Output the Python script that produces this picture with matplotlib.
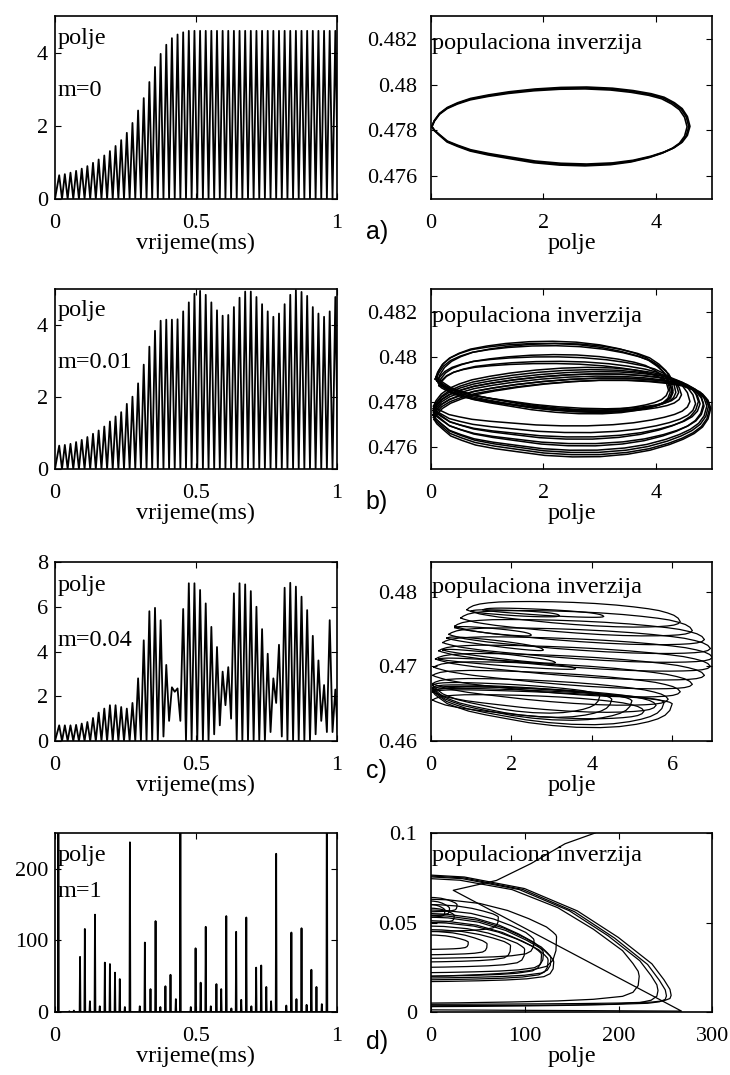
import numpy as np
import matplotlib
matplotlib.use('Agg')
import matplotlib.pyplot as plt

plt.rcParams['font.family'] = ['Liberation Serif', 'DejaVu Serif']
plt.rcParams['font.size'] = 17.5

# field pulses: one peak per period, trough in between
T0 = 0.015
PERIOD = 0.02

peaks_a = [0.65, 0.68, 0.72, 0.77, 0.83, 0.9, 0.99, 1.08, 1.19, 1.31,
           1.45, 1.61, 1.81, 2.08, 2.42, 2.76, 3.2, 3.61, 3.97, 4.22,
           4.4, 4.5, 4.56] + [4.6] * 27

peaks_b = [0.65, 0.67, 0.70, 0.75, 0.81, 0.89, 0.98, 1.07, 1.18, 1.32,
           1.46, 1.58, 1.81, 2.01, 2.38, 2.9, 3.4, 3.84, 4.12, 4.15,
           4.15, 4.16, 4.38, 4.63, 4.87, 4.95, 4.84, 4.63, 4.41, 4.26,
           4.28, 4.5, 4.76, 4.93, 4.93, 4.78, 4.58, 4.38, 4.23, 4.32,
           4.58, 4.84, 4.97, 4.92, 4.81, 4.5, 4.32, 4.23, 4.38, 4.78]

peaks_c = [0.7, 0.7, 0.7, 0.72, 0.78, 0.85, 1.03, 1.27, 1.45, 1.6,
           1.6, 1.52, 1.45, 1.7, 2.8, 4.5, 5.8, 5.95, 5.4, 3.4,
           2.4, 2.35, 5.9, 7.05, 7.05, 6.75, 6.15, 5.1, 4.2, 3.1,
           3.3, 6.6, 7.05, 7.0, 6.7, 6.0, 5.0, 3.9, 2.8, 4.3,
           6.85, 7.07, 6.9, 6.45, 5.85, 4.7, 3.6, 2.5, 5.4, 2.3]
troughs_c = [0] * 18 + [0.2, 0.9, 2.2, 0.9, 0, 0, 0, 0, 0, 0.3,
                        0.7, 1.6, 1.0, 0, 0, 0, 0, 0, 0, 0.4,
                        1.7, 0.2, 0, 0, 0, 0, 0, 0.3, 0.9, 0.4, 0.4]

# m=1: isolated spikes (time in ms, height)
spike_t = [0.012, 0.051, 0.067, 0.089, 0.106, 0.124, 0.142, 0.159, 0.177, 0.195,
           0.213, 0.230, 0.248, 0.266, 0.301, 0.319, 0.339, 0.357, 0.374, 0.392,
           0.410, 0.429, 0.445, 0.482, 0.499, 0.517, 0.535, 0.553, 0.573, 0.590,
           0.608, 0.626, 0.643, 0.661, 0.679, 0.697, 0.714, 0.732, 0.750, 0.767,
           0.785, 0.821, 0.839, 0.857, 0.875, 0.893, 0.910, 0.928, 0.947, 0.965]
spike_h = [600, 1, 2, 77, 116, 15, 136, 8, 69, 67,
           55, 46, 7, 237, 8, 97, 32, 127, 7, 36,
           52, 18, 400, 7, 89, 41, 119, 8, 39, 32,
           134, 5, 112, 17, 132, 8, 62, 65, 35, 15,
           221, 9, 111, 18, 117, 10, 59, 35, 11, 400]

# closed orbit shape in the (field, inversion) plane for m=0
LOOP_S = np.array([0, .01, .03, .06, .10, .15, .22, .30, .40, .50,
                   .60, .70, .78, .85, .90, .94, .97, .99, 1.0])
LOOP_UP = np.array([0, .15, .33, .48, .60, .71, .80, .88, .95, .99,
                    1.0, .97, .91, .83, .74, .60, .45, .25, 0])
LOOP_LOW = np.array([0, .10, .22, .39, .50, .62, .72, .81, .92, .98,
                     1.0, .97, .90, .79, .68, .56, .42, .24, 0])

# orbits: left x, right x, left y, right y, upper bulge, lower bulge
a_x0 = [0.02, 0.02, 0.02]
a_x1 = [4.58, 4.60, 4.55]
a_yl = [0.47817, 0.47818, 0.47816]
a_yr = [0.47817, 0.47818, 0.47816]
a_up = [0.00169, 0.00172, 0.00166]
a_dn = [0.00168, 0.00165, 0.00171]

b_x0 = [0.08, 0.10, 0.12, 0.10, 0.14, 0.12, 0.15, 0.16,
        0.05, 0.05, 0.06, 0.05, 0.04, 0.05, 0.06, 0.05, 0.04, 0.05]
b_x1 = [4.25, 4.28, 4.30, 4.35, 4.22, 4.40, 4.45, 4.30,
        4.60, 4.70, 4.78, 4.85, 4.90, 4.95, 4.97, 4.93, 4.84, 4.75]
b_yl = [0.4790, 0.4791, 0.4789, 0.4790, 0.4788, 0.4789, 0.4787, 0.4788,
        0.4778, 0.4777, 0.4776, 0.4775, 0.4774, 0.4773, 0.4772, 0.4774, 0.4776, 0.4777]
b_yr = [0.4784, 0.4784, 0.4785, 0.4784, 0.4785, 0.4784, 0.4783, 0.4784,
        0.4780, 0.4779, 0.4779, 0.4778, 0.4778, 0.4777, 0.4777, 0.4778, 0.4779, 0.4780]
b_up = [.0020, .00185, .0019, .0018, .00145, .00135, .0013, .0011,
        .0016, .0016, .00145, .00145, .0014, .0014, .00145, .0014, .00145, .00145]
b_dn = [.0011, .0011, .0012, .0010, .0010, .0009, .0009, .0010,
        .0010, .0012, .00135, .00155, .0018, .0019, .00195, .0019, .00175, .00155]

c_x0 = [0.9, 0.75, 0.6, 0.45, 0.3, 0.2, 0.12, 0.08, 0.05, 0.05, 0.05, 0.05,
        1.0, 1.3, 0.6, 0.4, 0.3, 0.2,
        0.05, 0.05, 0.05, 0.05, 0.05]
c_x1 = [6.2, 6.5, 6.8, 6.95, 7.0, 6.95, 6.8, 6.5, 6.2, 5.9, 5.6, 5.3,
        3.2, 4.3, 2.5, 2.8, 3.1, 3.6,
        4.5, 5.0, 5.8, 6.0, 4.2]
c_yl = [0.4776, 0.4765, 0.4754, 0.4743, 0.4732, 0.4721, 0.4710, 0.4699,
        0.4688, 0.4677, 0.4666, 0.4655,
        0.4774, 0.4776, 0.4752, 0.4738, 0.4722, 0.4710,
        0.4672, 0.4670, 0.4668, 0.4666, 0.4675]
c_yr = [0.4760, 0.4748, 0.4736, 0.4724, 0.4712, 0.4700, 0.4688, 0.4676,
        0.4666, 0.4656, 0.4648, 0.4640,
        0.4768, 0.4767, 0.4742, 0.4722, 0.4705, 0.4697,
        0.4656, 0.4654, 0.4652, 0.4650, 0.4660]
c_up = [0.0018, 0.0017, 0.0016, 0.0016, 0.0015, 0.0015, 0.0015, 0.0015,
        0.0014, 0.0014, 0.0013, 0.0013,
        0.0004, 0.0005, 0.0004, 0.0005, 0.0004, 0.0004,
        0.0008, 0.0008, 0.0007, 0.0007, 0.0008]
c_dn = [0.0012, 0.0012, 0.0012, 0.0012, 0.0012, 0.0012, 0.0012, 0.0012,
        0.0013, 0.0014, 0.0015, 0.0015,
        0.0003, 0.0003, 0.0003, 0.0003, 0.0003, 0.0003,
        0.0030, 0.0032, 0.0036, 0.0038, 0.0028]

# m=1 orbits start at field 0 and return to it
DLOOP_S = np.array([0, .14, .39, .61, .78, .92, .97, .995, 1.0])
DLOOP_UP = np.array([1, .984, .888, .702, .482, .262, .13, .05, 0])
DLOOP_LOW = np.array([1, .99, .96, .92, .86, .75, .6, .35, 0])

d_x1 = [256, 251, 242, 222,
        72, 110, 120, 128, 131, 134, 118, 125, 100, 85, 60, 40, 28, 20, 15, 25]
d_top = [0.0765, 0.0760, 0.0755, 0.0745,
         0.060, 0.057, 0.055, 0.054, 0.053, 0.063, 0.050, 0.051, 0.048, 0.046,
         0.045, 0.043, 0.064, 0.062, 0.060, 0.058]
d_end = [0.0093, 0.0090, 0.0120, 0.0200,
         0.053, 0.040, 0.033, 0.030, 0.028, 0.042, 0.032, 0.029, 0.035, 0.037,
         0.038, 0.039, 0.060, 0.058, 0.057, 0.054]
d_bot = [0.0043, 0.0035, 0.0030, 0.0050,
         0.045, 0.030, 0.022, 0.019, 0.017, 0.020, 0.020, 0.018, 0.025, 0.028,
         0.032, 0.035, 0.056, 0.054, 0.053, 0.050]
# transient: along the bottom, back up the diagonal and out of the frame
d_tail_x = [0, 267, 24, 70, 107, 143, 175]
d_tail_y = [0.0012, 0.0005, 0.068, 0.0735, 0.083, 0.094, 0.1]


def pulse_train(peaks, troughs=None):
    t = [0.0]
    y = [0.0]
    for k, p in enumerate(peaks):
        tk = T0 + PERIOD * k
        t.append(tk)
        y.append(p)
        low = troughs[k] if troughs is not None and k < len(troughs) else 0.0
        t.append(tk + PERIOD / 2)
        y.append(low)
    return np.array(t), np.array(y)


def spikes(times, heights, half=0.0015):
    t = [0.0]
    y = [0.0]
    for tk, h in zip(times, heights):
        t += [tk - half, tk, tk + half]
        y += [0.0, h, 0.0]
    t.append(1.0)
    y.append(0.0)
    return np.array(t), np.array(y)


def orbit(ax, x0, x1, yl, yr, up, dn, lw=0.9):
    for i in range(len(x0)):
        xs = x0[i] + (x1[i] - x0[i]) * LOOP_S
        base = yl[i] + (yr[i] - yl[i]) * LOOP_S
        xx = np.concatenate([xs, xs[::-1]])
        yy = np.concatenate([base + up[i] * LOOP_UP, (base - dn[i] * LOOP_LOW)[::-1]])
        ax.plot(xx, yy, color='k', lw=lw)


def orbit_d(ax):
    for i in range(len(d_x1)):
        xs = d_x1[i] * DLOOP_S
        upper = d_end[i] + (d_top[i] - d_end[i]) * DLOOP_UP
        lower = d_end[i] - (d_end[i] - d_bot[i]) * DLOOP_LOW
        ax.plot(np.concatenate([xs, xs[::-1]]),
                np.concatenate([upper, lower[::-1]]), color='k', lw=0.9)
    ax.plot(d_tail_x, d_tail_y, color='k', lw=0.9)


def style(ax, ypad):
    ax.tick_params(direction='in', top=True, right=True, length=4, width=0.8,
                   labelsize=16)
    ax.tick_params(axis='x', pad=11)
    ax.tick_params(axis='y', pad=ypad)
    for sp in ax.spines.values():
        sp.set_linewidth(1.2)


fig = plt.figure(figsize=(7.3, 10.75), dpi=100)
lx, rx, w = 0.0753, 0.590, 0.386
rows = [(0.8149, 0.170), (0.5637, 0.1674), (0.3107, 0.1665), (0.0586, 0.1665)]
axL = [fig.add_axes([lx, y0, w, h]) for y0, h in rows]
axR = [fig.add_axes([rx, y0, w, h]) for y0, h in rows]

series = [pulse_train(peaks_a), pulse_train(peaks_b),
          pulse_train(peaks_c, troughs_c), spikes(spike_t, spike_h)]
ylims = [(0, 5), (0, 5), (0, 8), (0, 250)]
yticks = [[0, 2, 4], [0, 2, 4], [0, 2, 4, 6, 8], [0, 100, 200]]
mtext = ['m=0', 'm=0.01', 'm=0.04', 'm=1']
pos = [(0.88, 0.596), (0.88, 0.594), (0.87, 0.56), (0.877, 0.676)]

for ax, (t, y), yl, yt, m, (py, my) in zip(axL, series, ylims, yticks, mtext, pos):
    ax.plot(t, y, color='k', lw=1.3)
    ax.set_xlim(0, 1)
    ax.set_ylim(*yl)
    ax.set_xticks([0, 0.5, 1])
    ax.set_xticklabels(['0', '0.5', '1'])
    ax.set_yticks(yt)
    ax.set_xlabel('vrijeme(ms)', labelpad=0)
    ax.text(0.01, py, 'polje', transform=ax.transAxes, va='center', ha='left')
    ax.text(0.01, my, m, transform=ax.transAxes, va='center', ha='left')
    style(ax, 5)

orbit(axR[0], a_x0, a_x1, a_yl, a_yr, a_up, a_dn, lw=1.2)
orbit(axR[1], b_x0, b_x1, b_yl, b_yr, b_up, b_dn, lw=1.1)
orbit(axR[2], c_x0, c_x1, c_yl, c_yr, c_up, c_dn, lw=0.9)
orbit_d(axR[3])

rlims = [((0, 5), (0.475, 0.483)), ((0, 5), (0.475, 0.483)),
         ((0, 7), (0.46, 0.484)), ((0, 300), (0, 0.1))]
rxt = [[0, 2, 4], [0, 2, 4], [0, 2, 4, 6], [0, 100, 200, 300]]
ryt = [[0.476, 0.478, 0.48, 0.482], [0.476, 0.478, 0.48, 0.482],
       [0.46, 0.47, 0.48], [0, 0.05, 0.1]]
rytl = [['0.476', '0.478', '0.48', '0.482'], ['0.476', '0.478', '0.48', '0.482'],
        ['0.46', '0.47', '0.48'], ['0', '0.05', '0.1']]
rty = [0.85, 0.85, 0.86, 0.877]
for ax, (xl, yl), xt, yt, ytl, ty in zip(axR, rlims, rxt, ryt, rytl, rty):
    ax.set_xlim(*xl)
    ax.set_ylim(*yl)
    ax.set_xticks(xt)
    ax.set_yticks(yt)
    ax.set_yticklabels(ytl)
    ax.set_xlabel('polje', labelpad=0)
    ax.text(0.005, ty, 'populaciona inverzija', transform=ax.transAxes,
            va='center', ha='left')
    style(ax, 10)

for lab, ypx in zip(['a)', 'b)', 'c)', 'd)'], [231.5, 501.5, 771, 1042.5]):
    fig.text(0.501, 1 - ypx / 1075, lab, family=['Liberation Sans', 'DejaVu Sans'],
             fontsize=18, va='center', ha='left')

fig.savefig('out.png', dpi=100)
